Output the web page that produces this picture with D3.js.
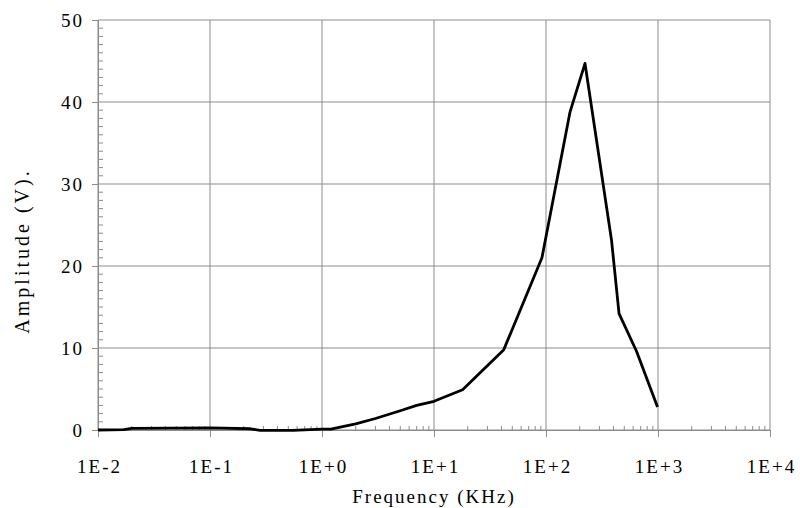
<!DOCTYPE html>
<html>
<head>
<meta charset="utf-8">
<script src="https://cdn.jsdelivr.net/npm/d3@7"></script>
<style>
  body { margin: 0; background: #fff; }
  text { font-family: "Liberation Serif", "Times New Roman", serif; fill: #000; }
</style>
</head>
<body>
<svg class="chart"></svg>
<script>
// data
var freq = [0.01, 0.017, 0.02, 0.1, 0.23, 0.28, 0.55, 1.0, 1.2, 2, 3, 5, 7, 10, 18, 42, 92, 164, 223, 385, 449, 643, 990];
var amp  = [0, 0.05, 0.2, 0.25, 0.15, -0.05, -0.05, 0.1, 0.1, 0.75, 1.4, 2.35, 3.0, 3.5, 4.9, 9.8, 21, 38.8, 44.7, 23.1, 14.2, 9.6, 2.8];

var xTicks = [0.01, 0.1, 1, 10, 100, 1000, 10000];
var xTickLabels = ["1E-2", "1E-1", "1E+0", "1E+1", "1E+2", "1E+3", "1E+4"];
var yTicks = [0, 10, 20, 30, 40, 50];

var data = freq.map(function(f, i) { return {f: f, v: amp[i]}; });

// Canvas dimensions
var margin = {top: 20, right: 30, bottom: 78, left: 98},
    width = 800 - margin.left - margin.right,
    height = 508 - margin.top - margin.bottom;

var gridColor = "#8c8c8c";

var x = d3.scaleLog()
    .domain([0.01, 10000])
    .range([0, width]);

var y = d3.scaleLinear()
    .domain([0, 50])
    .range([height, 0]);

var chart = d3.select(".chart")
    .attr("width", width + margin.left + margin.right)
    .attr("height", height + margin.top + margin.bottom)
  .append("g")
    .attr("transform", "translate(" + margin.left + "," + margin.top + ")");

// grid lines
chart.selectAll(".vgrid")
    .data(xTicks)
  .enter().append("line")
    .attr("x1", function(d) { return x(d); })
    .attr("x2", function(d) { return x(d); })
    .attr("y1", 0)
    .attr("y2", height)
    .style("stroke", gridColor)
    .style("stroke-width", 1);

chart.selectAll(".hgrid")
    .data(yTicks)
  .enter().append("line")
    .attr("x1", 0)
    .attr("x2", width)
    .attr("y1", function(d) { return y(d); })
    .attr("y2", function(d) { return y(d); })
    .style("stroke", gridColor)
    .style("stroke-width", 1);

// minor ticks, drawn inside the plot
var xMinor = [];
for (var e = -2; e < 4; e++) {
  for (var m = 2; m < 10; m++) xMinor.push(m * Math.pow(10, e));
}
chart.selectAll(".xminor")
    .data(xMinor)
  .enter().append("line")
    .attr("x1", function(d) { return x(d); })
    .attr("x2", function(d) { return x(d); })
    .attr("y1", height)
    .attr("y2", height - 4)
    .style("stroke", gridColor);

var yMinor = d3.range(1, 50).filter(function(d) { return d % 10 !== 0; });
chart.selectAll(".yminor")
    .data(yMinor)
  .enter().append("line")
    .attr("x1", 0)
    .attr("x2", 5)
    .attr("y1", function(d) { return y(d); })
    .attr("y2", function(d) { return y(d); })
    .style("stroke", gridColor);

// axes
var xAxis = chart.append("g")
    .attr("transform", "translate(0," + height + ")")
    .call(d3.axisBottom(x)
      .tickValues(xTicks)
      .tickFormat(function(d, i) { return xTickLabels[i]; })
      .tickSize(7)
      .tickSizeOuter(0));

var yAxis = chart.append("g")
    .call(d3.axisLeft(y)
      .tickValues(yTicks)
      .tickSize(6)
      .tickSizeOuter(0));

[xAxis, yAxis].forEach(function(a) {
  a.select(".domain").style("stroke", gridColor);
  a.selectAll(".tick line").style("stroke", gridColor);
  a.selectAll(".tick text")
    .style("font-size", "19px")
    .style("letter-spacing", "2px")
    .style("font-family", "'Liberation Serif', serif")
    .style("fill", "#000");
});

xAxis.selectAll(".tick text")
    .attr("y", 42.5)
    .attr("dy", 0)
    .attr("dx", 1);

yAxis.selectAll(".tick text")
    .attr("x", -14);

// the curve
var line = d3.line()
    .x(function(d) { return x(d.f); })
    .y(function(d) { return y(d.v); });

chart.append("path")
    .datum(data)
    .attr("d", line)
    .style("fill", "none")
    .style("stroke", "#000")
    .style("stroke-width", 2.8)
    .style("stroke-linejoin", "round");

// axis titles
chart.append("text")
    .attr("x", width / 2)
    .attr("y", height + 73)
    .attr("text-anchor", "middle")
    .style("font-size", "19px")
    .style("letter-spacing", "2px")
    .text("Frequency (KHz)");

chart.append("text")
    .attr("transform", "translate(" + (29 - margin.left) + "," + (251 - margin.top) + ") rotate(-90)")
    .attr("text-anchor", "middle")
    .style("font-size", "20px")
    .style("letter-spacing", "3px")
    .text("Amplitude (V).");
</script>
</body>
</html>
